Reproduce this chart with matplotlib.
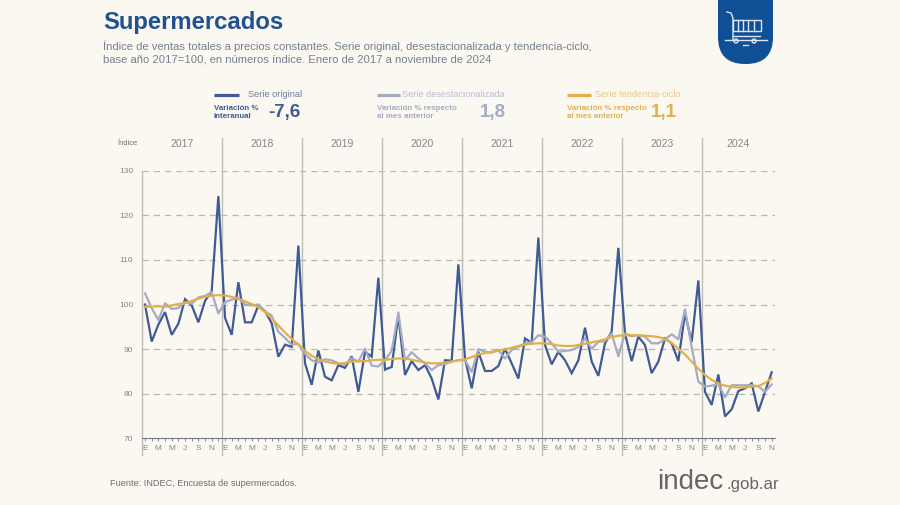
import matplotlib
matplotlib.use("Agg")
import matplotlib.pyplot as plt
from matplotlib.patches import FancyBboxPatch, Circle, Rectangle
import numpy as np

plt.rcParams["font.family"] = ["Liberation Sans", "DejaVu Sans"]

# Datos, enero 2017 a noviembre 2024
original = [
    100, 91.7, 95.5, 98.3, 93.2, 95.7, 101.2, 99.8, 96, 100.8, 103, 124.3,
    97, 93.2, 105, 96, 96, 99.8, 98.5, 95.8, 88.3, 91, 90.5, 113.2,
    86.8, 82, 89.7, 83.8, 83, 86.4, 85.8, 88.4, 80.4, 89.4, 88.3, 106,
    85.4, 86, 97.5, 84.2, 87.3, 85.3, 86.4, 83.4, 78.7, 87.5, 87.4, 109,
    87.9, 81.2, 89.4, 85.1, 85.1, 86.2, 90.1, 86.8, 83.4, 92.4, 91.4, 115,
    90.9, 86.6, 89.4, 87.5, 84.6, 87.5, 94.8, 87.2, 84, 91.3, 93.9, 112.7,
    93.5, 87.3, 92.8, 90.9, 84.6, 87.2, 92.4, 91.3, 87.3, 98, 91.6, 105.4,
    80.4, 77.5, 84.3, 74.9, 76.5, 80.6, 81.2, 82.3, 76, 80.4, 84.8,
]
desest = [
    102.5, 99.2, 96.5, 100.3, 99, 99.2, 100.5, 100.2, 101.6, 101.9, 102.8, 98,
    100.5, 101.1, 101.5, 100, 99.8, 100, 98.4, 97.5, 93.9, 92.5, 91, 91.2,
    88.9, 87.5, 87, 87.7, 87.5, 86.8, 86.5, 88, 87.2, 90.1, 86.3, 86.1,
    87.5, 89.6, 98.2, 87.5, 89.3, 87.9, 86.8, 85.3, 86.4, 86.6, 87.2, 87.5,
    87.5, 84.9, 90, 89.4, 89.2, 89.8, 87.9, 89.8, 90.5, 91.3, 91.6, 93.1,
    92.8, 91.3, 89.4, 89.6, 89.8, 90.5, 92.4, 90.1, 91.6, 91.8, 93.5, 88.4,
    93.5, 92.9, 93.1, 92.8, 91.3, 91.3, 92.2, 93.3, 92.2, 98.9, 90.5, 82.7,
    81.6, 81.8, 82.1, 79.2, 81.9, 81.9, 81.9, 81.9, 81.7, 80.4, 82.1,
]
tendencia = [
    99.5, 99.5, 99.6, 99.5, 99.8, 100.1, 100.3, 100.8, 101.3, 101.7, 102, 102.1,
    102, 101.7, 101.3, 100.7, 100.1, 99.4, 98.3, 96.9, 95.3, 93.7, 92.3, 91,
    89.6, 88.5, 87.7, 87.2, 86.9, 86.7, 86.9, 87.2, 87.3, 87.3, 87.5, 87.6,
    87.6, 87.8, 87.9, 87.9, 87.6, 87.3, 87, 86.8, 86.8, 87, 87.2, 87.5,
    87.7, 88.2, 88.8, 89.1, 89.4, 89.7, 89.9, 90.3, 90.7, 91, 91.2, 91.3,
    91.3, 91.1, 90.8, 90.7, 90.7, 90.9, 91.2, 91.5, 91.8, 92.2, 92.7, 93,
    93.1, 93.1, 93.1, 93, 92.9, 92.7, 92.3, 91.4, 90.1, 88.8, 87.2, 85.6,
    84.2, 83.1, 82.3, 81.8, 81.5, 81.4, 81.4, 81.6, 81.7, 82.4, 83.4,
]
anios = [2017, 2018, 2019, 2020, 2021, 2022, 2023, 2024]
meses = ["E", "", "M", "", "M", "", "J", "", "S", "", "N", ""]
y_ticks = [70, 80, 90, 100, 110, 120, 130]

AZUL = "#3f5a94"
GRIS_AZ = "#a4abc4"
ORO = "#e0b04a"
FONDO = "#fbf8f2"
GRILLA = "#b8b6ae"
TEXTO = "#85858a"

fig = plt.figure(figsize=(9, 5.05), dpi=100, facecolor=FONDO)

# Ejes del grafico, ubicados en pixeles sobre la figura
L, R, T, B = 141.7, 775, 170.7, 438.3
ax = fig.add_axes([L / 900, 1 - B / 505, (R - L) / 900, (B - T) / 505])
ax.set_facecolor("none")
ax.set_xlim(-0.5, 94.5)
ax.set_ylim(70, 130)
for s in ["top", "right"]:
    ax.spines[s].set_visible(False)
ax.spines["left"].set_visible(False)
ax.spines["bottom"].set_color("#70758a")
ax.spines["bottom"].set_linewidth(0.8)

x = np.arange(len(original))
ax.set_xticks(x)
ax.set_xticklabels((meses * len(anios))[:len(x)], fontsize=6, color=TEXTO)
ax.tick_params(axis="x", length=2.2, width=0.6, color="#70758a", pad=2.5)
ax.set_yticks(y_ticks)
ax.set_yticklabels(y_ticks, fontsize=6, color=TEXTO)
ax.tick_params(axis="y", length=0, pad=6)

for v in y_ticks[1:]:
    ax.axhline(v, color=GRILLA, lw=0.9, dashes=(5, 4), zorder=1)

# Separadores de anio, salen por arriba y por abajo de los ejes
for i in range(len(anios)):
    ax.plot([12 * i - 0.5] * 2, [66.3, 137.3 if i else 130], color="#bdbbb5",
            lw=1.0, clip_on=False, zorder=1)
    centro = x[12 * i:12 * i + 12].mean()
    ax.text(centro, 136, anios[i], fontsize=7.5, color=TEXTO,
            ha="center", va="center")
ax.text(-2.55, 136.2, "Índice", fontsize=5.4, color="#6d6d72", ha="center", va="center")

ax.plot(x, original, color=AZUL, lw=1.6, zorder=3, solid_joinstyle="miter")
ax.plot(x, desest, color=GRIS_AZ, lw=1.6, zorder=4)
ax.plot(x, tendencia, color=ORO, lw=1.6, zorder=5)

# Capa en pixeles para encabezado, leyenda y logos
ov = fig.add_axes([0, 0, 1, 1], facecolor="none")
ov.set_xlim(0, 900)
ov.set_ylim(505, 0)
ov.axis("off")

ov.text(103, 22.5, "Supermercados", fontsize=17.2, fontweight="bold", color="#21528f",
        va="center")
ov.text(103, 46, "Índice de ventas totales a precios constantes. Serie original, desestacionalizada y tendencia-ciclo,",
        fontsize=8.15, color="#77808f", va="center")
ov.text(103, 60, "base año 2017=100, en números índice. Enero de 2017 a noviembre de 2024",
        fontsize=8.15, color="#77808f", va="center")

# Leyenda
ov.plot([214, 239], [94.5, 94.5], color=AZUL, lw=2.3, solid_capstyle="butt")
ov.text(248, 94.5, "Serie original", fontsize=6.6, color="#6f7c9f", va="center")
ov.text(214, 109, "Variación %", fontsize=5.7, fontweight="bold", color=AZUL, va="center")
ov.text(214, 117, "interanual", fontsize=5.7, fontweight="bold", color=AZUL, va="center")
ov.text(268, 113, "-7,6", fontsize=13.5, fontweight="bold", color=AZUL, va="center")

ov.plot([377, 400], [94.5, 94.5], color=GRIS_AZ, lw=2.3, solid_capstyle="butt")
ov.text(402, 94.5, "Serie desestacionalizada", fontsize=6.6, color="#b9bfd2", va="center")
ov.text(377, 109, "Variación % respecto", fontsize=5.7, fontweight="bold", color=GRIS_AZ, va="center")
ov.text(377, 117, "al mes anterior", fontsize=5.7, fontweight="bold", color=GRIS_AZ, va="center")
ov.text(480, 113, "1,8", fontsize=13.5, fontweight="bold", color=GRIS_AZ, va="center")

ov.plot([567, 591], [94.5, 94.5], color=ORO, lw=2.3, solid_capstyle="butt")
ov.text(595, 94.5, "Serie tendencia-ciclo", fontsize=6.6, color="#e6c887", va="center")
ov.text(567, 109, "Variación % respecto", fontsize=5.7, fontweight="bold", color=ORO, va="center")
ov.text(567, 117, "al mes anterior", fontsize=5.7, fontweight="bold", color=ORO, va="center")
ov.text(651, 113, "1,1", fontsize=13.5, fontweight="bold", color=ORO, va="center")

# Pie
ov.text(110, 484, "Fuente: INDEC, Encuesta de supermercados.", fontsize=6.55, color="#6d6d72",
        va="center")
ov.text(657, 489, "indec", fontsize=20, color="#666666", va="baseline")
ov.text(727, 489, ".gob.ar", fontsize=12.2, color="#666666", va="baseline")

# Insignia con el carrito
ov.add_patch(FancyBboxPatch((718, -40), 55, 104, boxstyle="round,pad=0,rounding_size=27",
                            fc="#0f4f95", ec="none"))
blanco = dict(color="#dce6f0", lw=1.0)
ov.plot([727, 731, 733, 733], [12, 13, 18, 40], **blanco)
ov.add_patch(Rectangle((733, 20), 28, 11, fc="none", ec="#dce6f0", lw=1.0))
for xl in [738, 743, 748, 754]:
    ov.plot([xl, xl], [20, 31], **blanco)
ov.plot([733, 760], [36, 36], **blanco)
ov.plot([725, 767], [40, 40], **blanco)
for xc in [736, 754]:
    ov.add_patch(Circle((xc, 41), 2, fc="#0f4f95", ec="#dce6f0", lw=1.0))
ov.plot([743, 748], [45, 45], **blanco)

fig.savefig("out.png", dpi=100, facecolor=FONDO)
